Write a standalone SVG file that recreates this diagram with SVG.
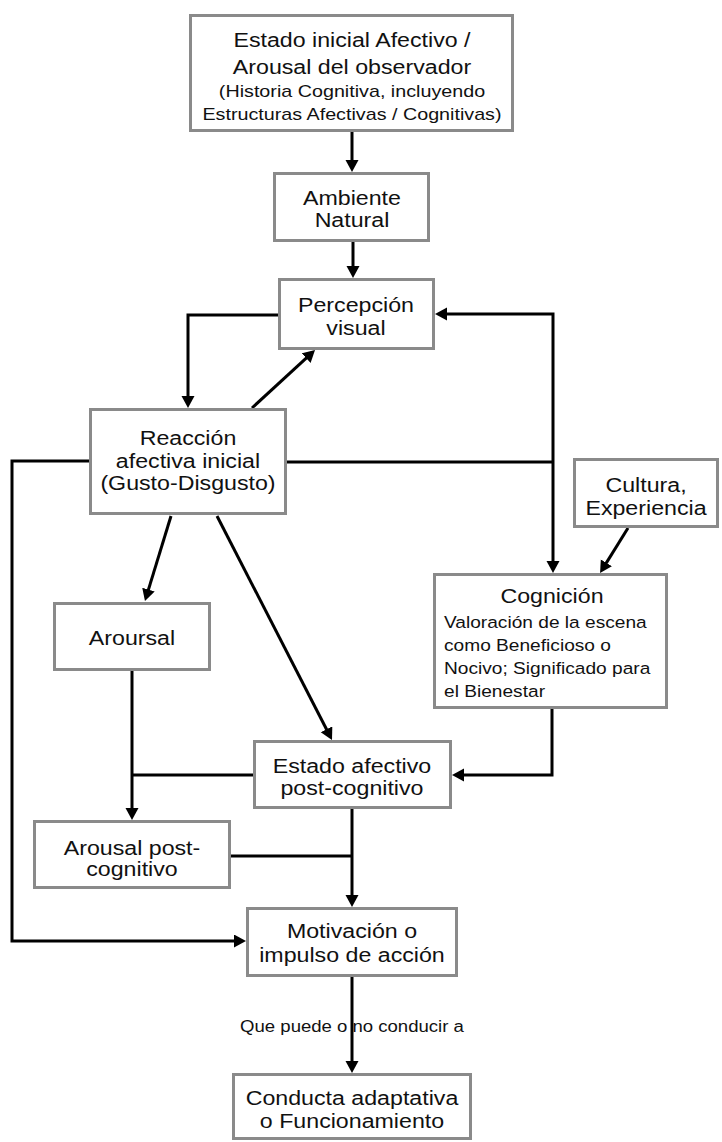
<svg xmlns="http://www.w3.org/2000/svg" width="722" height="1142" viewBox="0 0 722 1142">
<style>
.box{fill:#fff;stroke:#8a8a8a;stroke-width:3}
.t,.s,.l,.lab{font-family:"Liberation Sans",Arial,sans-serif;fill:#111;transform:scale(1.16,1)}
.t{font-size:20px;text-anchor:middle}
.s{font-size:17px;text-anchor:middle}
.l{font-size:16.5px}
.lab{font-size:16px;text-anchor:middle}
.c{fill:none;stroke:#000;stroke-width:3}
.a{marker-end:url(#arr)}
</style>
<defs>
<marker id="arr" markerUnits="userSpaceOnUse" markerWidth="14" markerHeight="14" refX="3" refY="6.5" orient="auto">
<path d="M0,0 L12,6.5 L0,13 z" fill="#000"/>
</marker>
</defs>
<g id="connectors">
<path class="c a" d="M352,132 V163"/>
<path class="c a" d="M353,242 V269"/>
<path class="c a" d="M278,315 H188 V399"/>
<path class="c a" d="M252,408 L308.4,356.1"/>
<path class="c" d="M287,462 H553"/>
<path class="c a" d="M553,462 V314 H444"/>
<path class="c a" d="M553,462 V564"/>
<path class="c a" d="M89,461 H12 V941 H237"/>
<path class="c a" d="M171,516 L147.6,592.4"/>
<path class="c a" d="M217,516 L327.9,732"/>
<path class="c a" d="M628,528 L604.8,565.4"/>
<path class="c a" d="M552,709 V775 H461"/>
<path class="c a" d="M132,671 V811"/>
<path class="c" d="M253,775 H132"/>
<path class="c a" d="M352,808 V898"/>
<path class="c" d="M231,856 H352"/>
<path class="c a" d="M352,977 V1064"/>
<text class="lab" x="303.45" y="1032">Que puede o no conducir a</text>
</g>
<g id="estado-inicial">
<rect class="box" x="190.5" y="15.5" width="322" height="115"/>
<text class="t" x="303.45" y="47">Estado inicial Afectivo /</text>
<text class="t" x="303.45" y="74">Arousal del observador</text>
<text class="s" x="303.45" y="97">(Historia Cognitiva, incluyendo</text>
<text class="s" x="303.45" y="120">Estructuras Afectivas / Cognitivas)</text>
</g>
<g id="ambiente">
<rect class="box" x="274.5" y="173.5" width="154" height="67"/>
<text class="t" x="303.45" y="205">Ambiente</text>
<text class="t" x="303.45" y="227">Natural</text>
</g>
<g id="percepcion">
<rect class="box" x="279.5" y="279.5" width="154" height="69"/>
<text class="t" x="306.9" y="312">Percepción</text>
<text class="t" x="306.9" y="335">visual</text>
</g>
<g id="reaccion">
<rect class="box" x="90.5" y="409.5" width="195" height="104"/>
<text class="t" x="162.07" y="445">Reacción</text>
<text class="t" x="162.07" y="468">afectiva inicial</text>
<text class="t" x="162.07" y="490">(Gusto-Disgusto)</text>
</g>
<g id="cultura">
<rect class="box" x="574.5" y="459.5" width="143" height="67"/>
<text class="t" x="556.9" y="492">Cultura,</text>
<text class="t" x="556.9" y="515">Experiencia</text>
</g>
<g id="cognicion">
<rect class="box" x="434.5" y="574.5" width="232" height="133"/>
<text class="t" x="475.86" y="603">Cognición</text>
<text class="l" x="382.76" y="628">Valoración de la escena</text>
<text class="l" x="382.76" y="651">como Beneficioso o</text>
<text class="l" x="382.76" y="674">Nocivo; Significado para</text>
<text class="l" x="382.76" y="697">el Bienestar</text>
</g>
<g id="aroursal">
<rect class="box" x="54.5" y="603.5" width="155" height="66"/>
<text class="t" x="113.79" y="645">Aroursal</text>
</g>
<g id="estado-post">
<rect class="box" x="254.5" y="741.5" width="196" height="66"/>
<text class="t" x="303.45" y="773">Estado afectivo</text>
<text class="t" x="303.45" y="795">post-cognitivo</text>
</g>
<g id="arousal-post">
<rect class="box" x="34.5" y="821.5" width="195" height="66"/>
<text class="t" x="113.79" y="855">Arousal post-</text>
<text class="t" x="113.79" y="876">cognitivo</text>
</g>
<g id="motivacion">
<rect class="box" x="247.5" y="908.5" width="209" height="67"/>
<text class="t" x="303.45" y="938">Motivación o</text>
<text class="t" x="303.45" y="962">impulso de acción</text>
</g>
<g id="conducta">
<rect class="box" x="233.5" y="1074.5" width="237" height="64"/>
<text class="t" x="303.45" y="1105">Conducta adaptativa</text>
<text class="t" x="303.45" y="1128">o Funcionamiento</text>
</g>
</svg>
